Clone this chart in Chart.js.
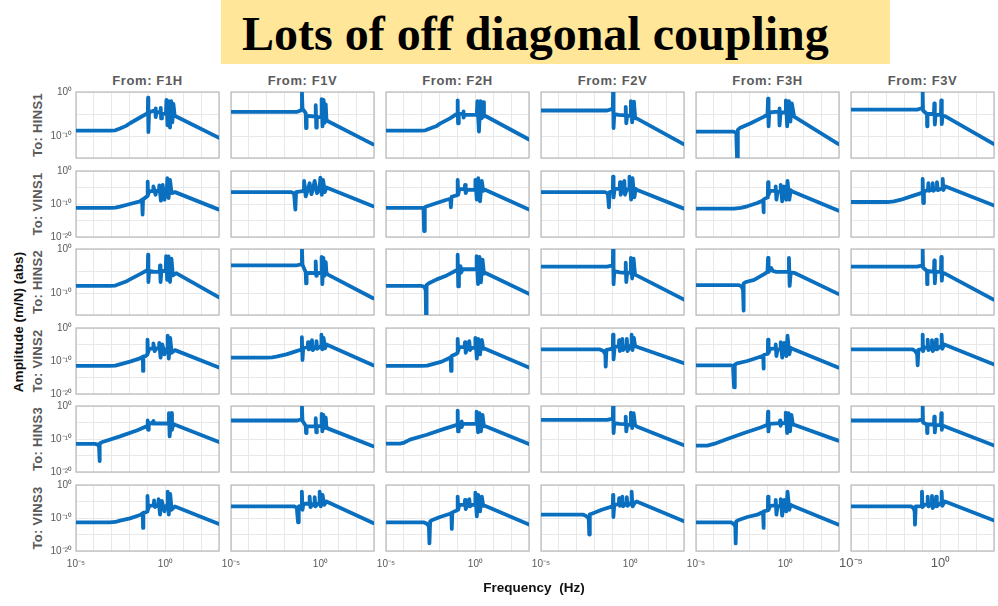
<!DOCTYPE html>
<html>
<head>
<meta charset="utf-8">
<script src="https://cdn.jsdelivr.net/npm/chart.js@4.4.1/dist/chart.umd.min.js"></script>
<style>
  body { margin: 0; background: #fff; width: 998px; height: 606px; position: relative; overflow: hidden;
         font-family: "Liberation Sans", Arial, sans-serif; }
  #banner { position: absolute; left: 221px; top: 0; width: 669px; height: 64px; background: #ffe699; }
  #banner span { position: absolute; left: 21px; top: 6px; line-height: 48px; white-space: nowrap;
                 font: bold 48px "Liberation Serif", "Times New Roman", serif; color: #000; }
  .panel { position: absolute; }
  .colTitle { position: absolute; width: 143px; top: 74px; line-height: 14px; text-align: center;
              font-weight: bold; font-size: 13px; letter-spacing: 0.6px; color: #5a5a5a; }
  .rowTitle { position: absolute; width: 90px; height: 14px; line-height: 14px; text-align: center;
              font-weight: bold; font-size: 13px; letter-spacing: 0.3px; color: #5a5a5a; transform: rotate(-90deg); }
  .axisTitle { position: absolute; font-weight: bold; font-size: 13.5px; color: #111; white-space: pre;
               line-height: 14px; text-align: center; }
</style>
</head>
<body>
<div id="banner"><span>Lots of off diagonal coupling</span></div>
<div id="grid"></div>
<div class="axisTitle" style="left:-61px;top:315px;width:160px;transform:rotate(-90deg);">Amplitude (m/N) (abs)</div>
<div class="axisTitle" style="left:454px;top:581px;width:160px;">Frequency  (Hz)</div>

<script>
// inputs and outputs of the 6x6 transfer matrix
const fromLabels = ['From: F1H', 'From: F1V', 'From: F2H', 'From: F2V', 'From: F3H', 'From: F3V'];
const toLabels = ['To: HINS1', 'To: VINS1', 'To: HINS2', 'To: VINS2', 'To: HINS3', 'To: VINS3'];

// axis limits and ticks, in decades (log10)
const rowFloor = [-15, -20, -15, -20, -20, -20];
const freqDecades = [-5, -4, -3, -2, -1, 0, 1, 2, 3];
const freqLabelled = [-5, 0];
const ampLabelled = [0, -10, -20];

// magnitude curves: [log10 f (Hz), log10 |G| (m/N)]
// row HINS1
const h1_f1h = [[-5,-8.8],[-3.1,-8.8],[-2.8,-8.7],[-2.54,-8.3],[-2.2,-7.7],[-1.98,-7.1],[-1.42,-5.8],[-1.04,-4.9],[-0.98,-4.7],[-0.97,-1.3],[-0.95,-9.1],[-0.91,-4.6],[-0.67,-4.3],[-0.56,-4.3],[-0.55,-3.7],[-0.53,-5.7],[-0.49,-4.6],[-0.28,-4.6],[-0.26,-3.6],[-0.24,-6.0],[-0.19,-5.0],[0.03,-4.9],[0.06,-1.8],[0.12,-7.6],[0.19,-2.1],[0.26,-8.1],[0.33,-2.1],[0.39,-6.9],[0.45,-2.7],[0.52,-5.4],[3,-10.4]];
const h1_f1v = [[-5,-4.5],[-1.3,-4.5],[-1.1,-4.2],[-1.04,-3.8],[-1.03,-0.1],[-1.0,-3.8],[-0.82,-4.8],[-0.8,-8.2],[-0.77,-5.4],[-0.28,-5.6],[-0.26,-3.0],[-0.23,-8.1],[-0.2,-5.8],[0.05,-5.6],[0.07,-1.6],[0.12,-7.8],[0.18,-1.8],[0.24,-7.0],[0.3,-2.8],[0.34,-6.2],[0.4,-6.6],[2.95,-11.9]];
const h1_f2h = [[-5,-8.8],[-3.1,-8.8],[-2.8,-8.7],[-2.54,-8.3],[-2.2,-7.8],[-1.98,-7.2],[-1.42,-6.0],[-1.08,-5.1],[-1.0,-4.9],[-0.99,-1.9],[-0.97,-7.1],[-0.93,-4.9],[-0.69,-5.0],[-0.67,-4.4],[-0.65,-5.8],[-0.6,-5.2],[0.08,-5.2],[0.11,-2.1],[0.2,-9.0],[0.28,-2.1],[0.35,-6.0],[0.43,-2.3],[0.48,-5.6],[0.54,-5.4],[3,-10.8]];
const h1_f2v = [[-5,-4.2],[-1.3,-4.2],[-1.05,-3.9],[-0.98,-3.6],[-0.97,-0.1],[-0.94,-8.2],[-0.9,-5.0],[-0.67,-5.2],[-0.28,-5.3],[-0.26,-3.4],[-0.23,-7.1],[-0.18,-5.4],[0.0,-5.4],[0.03,-2.1],[0.1,-6.9],[0.2,-2.2],[0.27,-6.0],[0.35,-6.0],[3,-11.9]];
const h1_f3h = [[-5,-9.0],[-2.9,-9.0],[-2.75,-9.3],[-2.7,-15.5],[-2.66,-8.6],[-2.55,-8.2],[-1.94,-7.1],[-1.19,-5.6],[-1.0,-5.1],[-0.97,-1.5],[-0.94,-7.8],[-0.9,-4.7],[-0.6,-4.5],[-0.35,-4.5],[-0.34,-3.7],[-0.31,-7.6],[-0.27,-4.7],[0.0,-4.6],[0.03,-1.9],[0.1,-7.8],[0.2,-2.1],[0.28,-6.7],[0.36,-2.6],[0.49,-5.6],[2.95,-11.8]];
const h1_f3v = [[-5,-4.0],[-1.3,-4.0],[-1.05,-3.7],[-1.0,-3.5],[-0.99,0],[-0.97,-4.2],[-0.75,-5.0],[-0.74,-7.8],[-0.72,-5.0],[-0.36,-5.0],[-0.34,-2.6],[-0.31,-7.4],[-0.27,-5.2],[0.03,-5.2],[0.05,-1.9],[0.08,-7.3],[0.12,-5.4],[0.26,-5.5],[2.97,-11.8]];
// row VINS1
const v1_f1h = [[-5,-11.2],[-3.1,-11.2],[-2.8,-11.1],[-2.54,-10.8],[-1.98,-10.0],[-1.42,-9.2],[-1.3,-8.7],[-1.28,-8.6],[-1.27,-13.2],[-1.25,-8.6],[-1.1,-8.0],[-1.0,-7.6],[-0.99,-3.2],[-0.97,-7.2],[-0.9,-6.2],[-0.68,-6.0],[-0.67,-4.7],[-0.55,-7.2],[-0.5,-6.0],[-0.36,-6.0],[-0.34,-4.4],[-0.25,-9.0],[-0.15,-4.2],[-0.05,-8.7],[0.0,-6.2],[0.08,-6.0],[0.11,-2.2],[0.18,-8.2],[0.26,-2.7],[0.35,-6.7],[0.54,-6.4],[3,-11.7]];
const v1_f1v = [[-5,-6.4],[-1.62,-6.4],[-1.47,-6.8],[-1.4,-11.7],[-1.36,-6.4],[-1.1,-6.2],[-0.92,-6.0],[-0.91,-3.0],[-0.82,-7.7],[-0.69,-5.4],[-0.6,-3.7],[-0.5,-7.0],[-0.42,-5.6],[-0.32,-3.0],[-0.19,-6.7],[-0.05,-5.5],[0.0,-2.0],[0.08,-7.2],[0.15,-2.7],[0.25,-6.4],[0.34,-5.0],[2.95,-10.7]];
const v1_f2h = [[-5,-11.2],[-2.95,-11.2],[-2.9,-11.4],[-2.87,-18.2],[-2.83,-11.0],[-2.7,-10.7],[-2.16,-9.7],[-1.6,-8.7],[-1.4,-8.4],[-1.37,-11.0],[-1.33,-7.8],[-1.05,-7.4],[-1.0,-7.2],[-0.99,-2.7],[-0.96,-7.2],[-0.9,-5.4],[-0.6,-5.6],[-0.58,-4.2],[-0.54,-6.7],[-0.48,-5.7],[-0.02,-5.7],[0.0,-2.7],[0.08,-8.7],[0.16,-2.2],[0.26,-9.2],[0.36,-3.0],[0.44,-6.0],[0.54,-5.7],[3,-11.7]];
const v1_f2v = [[-5,-6.4],[-1.42,-6.4],[-1.26,-6.8],[-1.2,-11.0],[-1.16,-6.4],[-1.0,-6.2],[-0.98,-6.0],[-0.97,-1.7],[-0.94,-8.0],[-0.88,-5.4],[-0.6,-5.4],[-0.58,-3.4],[-0.54,-7.2],[-0.46,-5.6],[-0.36,-5.5],[-0.34,-3.0],[-0.3,-7.2],[-0.2,-5.6],[-0.07,-5.6],[-0.05,-1.7],[0.04,-8.7],[0.12,-2.2],[0.22,-8.0],[0.3,-5.4],[0.35,-5.7],[3,-11.4]];
const v1_f3h = [[-5,-11.4],[-2.87,-11.4],[-2.5,-11.2],[-2.13,-10.7],[-1.57,-9.7],[-1.29,-9.0],[-1.24,-8.8],[-1.23,-12.5],[-1.2,-8.6],[-1.0,-8.0],[-0.98,-7.8],[-0.97,-3.4],[-0.94,-7.2],[-0.85,-6.0],[-0.56,-6.0],[-0.54,-4.7],[-0.5,-8.7],[-0.44,-6.3],[-0.28,-6.2],[-0.26,-4.2],[-0.18,-9.2],[-0.07,-4.7],[0.05,-8.7],[0.12,-3.0],[0.22,-8.7],[0.3,-5.8],[0.39,-6.2],[2.95,-12.0]];
const v1_f3v = [[-5,-9.4],[-2.95,-9.4],[-2.6,-9.2],[-2.2,-8.7],[-1.64,-7.7],[-1.08,-6.7],[-1.0,-6.5],[-0.99,-2.4],[-0.96,-9.7],[-0.92,-6.2],[-0.7,-5.8],[-0.67,-3.7],[-0.63,-6.0],[-0.45,-5.5],[-0.43,-3.7],[-0.39,-6.0],[-0.21,-5.2],[-0.19,-3.4],[-0.15,-5.8],[0.1,-5.2],[0.13,-2.4],[0.17,-5.8],[0.26,-4.6],[2.97,-10.4]];
// row HINS2
const h2_f1h = [[-5,-8.4],[-3.1,-8.4],[-2.8,-8.3],[-2.54,-7.9],[-2.2,-7.4],[-1.98,-6.9],[-1.42,-5.7],[-1.04,-4.9],[-0.98,-4.7],[-0.97,-1.3],[-0.95,-7.5],[-0.91,-5.0],[-0.6,-5.2],[-0.32,-5.2],[-0.3,-3.7],[-0.27,-7.5],[-0.22,-5.0],[0.02,-5.0],[0.04,-1.6],[0.1,-7.0],[0.18,-1.7],[0.26,-7.5],[0.34,-2.2],[0.42,-6.0],[0.6,-5.5],[3,-11.0]];
const h2_f1v = [[-5,-3.7],[-1.3,-3.7],[-1.1,-3.5],[-1.04,-3.3],[-1.03,0],[-1.0,-3.6],[-0.82,-5.3],[-0.8,-7.8],[-0.77,-5.4],[-0.28,-5.5],[-0.26,-2.8],[-0.23,-6.1],[-0.2,-5.5],[0.05,-5.4],[0.07,-1.8],[0.11,-8.0],[0.17,-2.0],[0.23,-6.1],[0.3,-3.0],[0.34,-5.5],[0.37,-5.7],[2.95,-11.2]];
const h2_f2h = [[-5,-8.4],[-3.0,-8.4],[-2.85,-8.6],[-2.78,-9.4],[-2.76,-15.5],[-2.73,-8.2],[-2.6,-7.8],[-2.16,-6.9],[-1.6,-6.0],[-1.08,-4.9],[-1.0,-4.7],[-0.99,-1.3],[-0.96,-8.5],[-0.92,-4.5],[-0.85,-4.5],[-0.83,-3.9],[-0.8,-5.4],[-0.7,-4.6],[0.05,-4.6],[0.07,-1.6],[0.15,-8.0],[0.23,-1.8],[0.31,-7.6],[0.4,-2.4],[0.48,-5.6],[0.6,-5.5],[3,-10.2]];
const h2_f2v = [[-5,-4.0],[-1.3,-4.0],[-1.05,-3.8],[-0.98,-3.6],[-0.97,-0.1],[-0.94,-8.0],[-0.9,-5.0],[-0.6,-5.3],[-0.28,-5.4],[-0.26,-3.1],[-0.23,-7.5],[-0.18,-5.4],[0.0,-5.4],[0.03,-2.0],[0.1,-6.7],[0.18,-2.2],[0.26,-5.8],[0.35,-6.0],[3,-11.5]];
const h2_f3h = [[-5,-8.2],[-2.6,-8.2],[-2.45,-8.5],[-2.37,-9.3],[-2.35,-14.0],[-2.32,-7.8],[-2.2,-7.5],[-1.75,-7.0],[-1.19,-5.7],[-1.0,-5.2],[-0.97,-2.0],[-0.94,-5.2],[-0.8,-4.3],[-0.7,-5.0],[-0.5,-5.2],[0.18,-5.2],[0.2,-2.0],[0.24,-8.4],[0.3,-5.3],[0.49,-5.4],[2.95,-10.2]];
const h2_f3v = [[-5,-4.0],[-1.3,-4.0],[-1.05,-3.8],[-1.0,-3.6],[-0.99,0],[-0.97,-4.2],[-0.75,-5.0],[-0.74,-8.0],[-0.72,-5.0],[-0.36,-5.2],[-0.34,-2.6],[-0.31,-7.8],[-0.27,-5.2],[0.03,-5.2],[0.05,-1.8],[0.08,-7.2],[0.12,-5.4],[0.26,-5.6],[2.97,-11.5]];
// row VINS2
const v2_f1h = [[-5,-11.5],[-3.1,-11.5],[-2.8,-11.4],[-2.54,-11.0],[-1.98,-10.2],[-1.42,-9.2],[-1.3,-8.8],[-1.26,-8.7],[-1.25,-13.0],[-1.23,-8.6],[-1.1,-8.5],[-1.01,-8.0],[-1.0,-3.5],[-0.97,-7.5],[-0.9,-6.3],[-0.69,-6.2],[-0.67,-4.7],[-0.6,-7.0],[-0.5,-6.2],[-0.36,-6.2],[-0.34,-4.5],[-0.27,-9.0],[-0.17,-5.0],[-0.05,-8.0],[0.0,-6.5],[0.1,-6.4],[0.13,-2.3],[0.19,-9.3],[0.27,-3.0],[0.35,-7.5],[0.54,-6.7],[3,-12.0]];
const v2_f1v = [[-5,-9.0],[-3.02,-9.0],[-2.7,-8.9],[-2.46,-8.7],[-1.9,-8.0],[-1.34,-7.0],[-1.06,-6.5],[-1.04,-6.4],[-1.03,-2.8],[-1.0,-9.7],[-0.96,-6.0],[-0.71,-5.8],[-0.69,-4.3],[-0.65,-6.5],[-0.49,-6.0],[-0.47,-3.7],[-0.43,-6.7],[-0.24,-5.6],[-0.22,-4.0],[-0.18,-6.3],[0.04,-5.5],[0.06,-2.0],[0.1,-6.5],[0.18,-3.0],[0.26,-6.2],[0.34,-5.0],[2.95,-11.3]];
const v2_f2h = [[-5,-11.5],[-3.0,-11.5],[-2.7,-11.4],[-2.44,-11.0],[-1.88,-10.2],[-1.42,-9.0],[-1.38,-8.8],[-1.36,-13.0],[-1.33,-8.5],[-1.05,-7.8],[-1.0,-7.5],[-0.99,-3.3],[-0.96,-7.0],[-0.9,-5.7],[-0.6,-5.8],[-0.58,-4.3],[-0.54,-7.5],[-0.46,-6.0],[-0.36,-6.0],[-0.34,-4.0],[-0.3,-6.7],[-0.2,-6.0],[-0.02,-6.0],[0.0,-3.0],[0.08,-9.3],[0.16,-3.3],[0.26,-8.0],[0.36,-3.6],[0.44,-6.3],[0.54,-6.3],[3,-12.0]];
const v2_f2v = [[-5,-6.5],[-1.7,-6.5],[-1.5,-7.0],[-1.4,-8.0],[-1.38,-11.7],[-1.34,-6.6],[-1.2,-6.5],[-0.98,-6.2],[-0.97,-2.0],[-0.94,-9.5],[-0.88,-5.7],[-0.65,-5.6],[-0.63,-3.7],[-0.59,-7.0],[-0.47,-5.5],[-0.45,-3.3],[-0.41,-6.7],[-0.22,-5.3],[-0.2,-3.3],[-0.16,-7.0],[0.05,-5.0],[0.07,-2.0],[0.12,-6.7],[0.2,-3.0],[0.26,-5.4],[0.35,-5.7],[3,-10.7]];
const v2_f3h = [[-5,-11.3],[-3.06,-11.3],[-2.93,-11.6],[-2.87,-18.0],[-2.83,-11.1],[-2.7,-10.7],[-2.13,-10.0],[-1.57,-9.0],[-1.29,-8.5],[-1.24,-8.4],[-1.23,-12.3],[-1.2,-8.2],[-1.0,-7.8],[-0.98,-7.6],[-0.97,-3.5],[-0.94,-7.5],[-0.85,-6.3],[-0.56,-6.2],[-0.54,-5.0],[-0.5,-8.5],[-0.44,-6.5],[-0.28,-6.4],[-0.26,-4.3],[-0.18,-9.0],[-0.07,-4.5],[0.05,-8.5],[0.12,-2.3],[0.22,-8.0],[0.3,-6.0],[0.39,-6.3],[2.95,-12.0]];
const v2_f3v = [[-5,-6.5],[-1.55,-6.5],[-1.4,-7.0],[-1.3,-8.0],[-1.27,-11.3],[-1.23,-6.6],[-1.05,-6.4],[-1.0,-6.2],[-0.99,-2.0],[-0.97,-7.0],[-0.9,-6.0],[-0.73,-5.8],[-0.71,-3.5],[-0.67,-6.7],[-0.49,-5.8],[-0.47,-3.7],[-0.43,-7.0],[-0.26,-5.6],[-0.24,-3.5],[-0.2,-6.5],[0.05,-5.4],[0.07,-2.0],[0.11,-6.3],[0.22,-5.0],[2.97,-11.0]];
// row HINS3
const h3_f1h = [[-5,-11.5],[-3.94,-11.5],[-3.78,-11.7],[-3.71,-12.5],[-3.69,-16.7],[-3.66,-11.4],[-3.56,-11.0],[-2.54,-9.2],[-1.6,-7.4],[-1.08,-6.2],[-1.0,-6.0],[-0.99,-4.4],[-0.97,-7.2],[-0.93,-5.6],[-0.86,-5.2],[-0.7,-5.3],[-0.67,-4.5],[-0.62,-5.3],[0.18,-5.3],[0.2,-2.2],[0.24,-9.2],[0.3,-5.5],[0.33,-2.2],[0.37,-7.2],[0.45,-5.4],[0.54,-5.7],[3,-10.9]];
const h3_f1v = [[-5,-4.4],[-1.3,-4.4],[-1.1,-4.1],[-1.04,-4.0],[-1.03,-0.2],[-1.0,-4.5],[-0.82,-6.0],[-0.8,-8.2],[-0.77,-6.2],[-0.28,-6.2],[-0.26,-3.7],[-0.23,-8.0],[-0.2,-6.2],[0.05,-6.0],[0.07,-2.4],[0.11,-7.7],[0.17,-2.7],[0.23,-6.7],[0.3,-3.5],[0.34,-6.5],[0.37,-6.7],[2.95,-12.2]];
const h3_f2h = [[-5,-11.4],[-4.22,-11.4],[-4.03,-11.2],[-3.66,-10.2],[-2.72,-8.7],[-1.79,-7.0],[-1.08,-5.8],[-1.0,-5.6],[-0.99,-1.4],[-0.97,-7.7],[-0.93,-5.4],[-0.8,-5.4],[-0.78,-4.7],[-0.75,-6.4],[-0.7,-5.4],[0.05,-5.4],[0.07,-1.7],[0.15,-8.0],[0.23,-2.2],[0.31,-7.7],[0.4,-2.7],[0.48,-6.2],[0.6,-6.2],[3,-11.5]];
const h3_f2v = [[-5,-4.2],[-1.3,-4.2],[-1.05,-3.9],[-0.98,-3.8],[-0.97,0],[-0.94,-8.2],[-0.9,-5.2],[-0.6,-5.4],[-0.28,-5.5],[-0.26,-3.2],[-0.23,-7.7],[-0.18,-5.7],[0.0,-5.7],[0.03,-2.0],[0.1,-6.7],[0.18,-2.2],[0.26,-5.7],[0.35,-6.2],[3,-11.9]];
const h3_f3h = [[-5,-12.0],[-4.37,-12.0],[-4.0,-11.5],[-3.25,-10.0],[-2.31,-8.2],[-1.38,-6.5],[-1.0,-5.7],[-0.97,-1.7],[-0.95,-7.7],[-0.9,-5.4],[-0.32,-5.2],[-0.3,-4.4],[-0.27,-6.0],[-0.2,-5.2],[0.0,-5.2],[0.02,-2.0],[0.1,-8.2],[0.18,-2.2],[0.26,-7.7],[0.34,-2.7],[0.42,-5.6],[0.49,-5.7],[2.95,-10.5]];
const h3_f3v = [[-5,-4.4],[-1.3,-4.4],[-1.05,-4.1],[-1.0,-4.0],[-0.99,-0.2],[-0.97,-5.0],[-0.75,-5.6],[-0.74,-8.2],[-0.72,-5.6],[-0.36,-5.6],[-0.34,-3.2],[-0.31,-8.0],[-0.27,-5.8],[0.03,-5.8],[0.05,-2.2],[0.08,-7.2],[0.12,-6.0],[0.26,-6.2],[2.97,-11.9]];
// row VINS3
const v3_f1h = [[-5,-11.3],[-3.1,-11.3],[-2.8,-11.2],[-2.54,-10.8],[-1.98,-10.1],[-1.42,-9.1],[-1.3,-8.7],[-1.26,-8.6],[-1.25,-13.0],[-1.23,-8.4],[-1.1,-8.3],[-1.01,-8.0],[-1.0,-3.3],[-0.97,-7.5],[-0.9,-6.3],[-0.65,-6.2],[-0.63,-4.7],[-0.58,-6.7],[-0.46,-6.2],[-0.4,-6.2],[-0.38,-4.3],[-0.3,-9.0],[-0.2,-4.8],[-0.05,-8.0],[0.0,-6.4],[0.1,-6.3],[0.13,-2.0],[0.19,-9.0],[0.27,-2.7],[0.35,-7.5],[0.54,-6.5],[3,-11.8]];
const v3_f1v = [[-5,-6.5],[-1.44,-6.5],[-1.32,-7.0],[-1.25,-11.3],[-1.21,-6.5],[-1.05,-6.3],[-1.04,-6.2],[-1.03,-2.0],[-1.0,-7.5],[-0.95,-5.7],[-0.62,-5.6],[-0.6,-3.5],[-0.56,-6.7],[-0.34,-5.5],[-0.32,-3.7],[-0.28,-6.5],[-0.06,-5.3],[-0.04,-2.0],[0.02,-6.5],[0.12,-3.0],[0.22,-6.0],[0.34,-5.0],[2.95,-11.5]];
const v3_f2h = [[-5,-11.3],[-2.91,-11.3],[-2.72,-11.7],[-2.6,-12.5],[-2.57,-17.7],[-2.53,-11.0],[-2.44,-10.7],[-1.98,-9.7],[-1.42,-8.7],[-1.34,-8.5],[-1.32,-13.3],[-1.29,-8.3],[-1.05,-7.7],[-1.0,-7.5],[-0.99,-3.5],[-0.96,-7.5],[-0.9,-6.0],[-0.6,-6.0],[-0.58,-4.5],[-0.54,-7.3],[-0.46,-6.2],[-0.36,-6.0],[-0.34,-4.3],[-0.3,-6.5],[-0.2,-6.0],[-0.02,-6.0],[0.0,-2.3],[0.08,-9.5],[0.16,-3.0],[0.26,-8.0],[0.36,-3.5],[0.44,-6.3],[0.54,-6.3],[3,-12.0]];
const v3_f2v = [[-5,-9.0],[-2.63,-9.0],[-2.44,-9.5],[-2.33,-10.3],[-2.3,-15.0],[-2.27,-8.9],[-2.16,-8.7],[-1.6,-7.5],[-1.14,-6.7],[-0.98,-6.4],[-0.97,-3.0],[-0.95,-9.7],[-0.9,-6.0],[-0.65,-5.8],[-0.63,-4.0],[-0.59,-6.3],[-0.47,-5.6],[-0.45,-3.5],[-0.41,-6.5],[-0.22,-5.5],[-0.2,-3.7],[-0.16,-6.3],[0.05,-5.3],[0.07,-2.0],[0.12,-6.5],[0.26,-5.3],[0.35,-5.0],[3,-11.0]];
const v3_f3h = [[-5,-11.3],[-3.06,-11.3],[-2.91,-11.7],[-2.8,-12.5],[-2.78,-17.7],[-2.75,-11.0],[-2.65,-10.7],[-2.13,-9.7],[-1.57,-9.0],[-1.38,-8.5],[-1.25,-8.2],[-1.23,-13.0],[-1.2,-8.0],[-1.0,-7.7],[-0.98,-7.5],[-0.97,-3.5],[-0.94,-7.5],[-0.85,-6.3],[-0.56,-6.2],[-0.54,-4.5],[-0.5,-9.0],[-0.44,-6.4],[-0.28,-6.3],[-0.26,-4.3],[-0.18,-9.3],[-0.07,-4.5],[0.05,-8.0],[0.12,-2.0],[0.22,-7.5],[0.3,-6.0],[0.39,-6.3],[2.95,-12.0]];
const v3_f3v = [[-5,-6.5],[-1.64,-6.5],[-1.5,-7.0],[-1.44,-8.0],[-1.42,-12.0],[-1.38,-6.5],[-1.1,-6.4],[-1.04,-6.3],[-1.03,-2.0],[-1.0,-6.7],[-0.9,-6.0],[-0.73,-5.8],[-0.71,-3.5],[-0.67,-6.5],[-0.49,-5.8],[-0.47,-3.3],[-0.43,-7.0],[-0.26,-5.5],[-0.24,-3.5],[-0.2,-6.5],[0.05,-5.3],[0.07,-2.0],[0.11,-6.3],[0.26,-5.0],[2.97,-10.7]];

const curves = [
  [h1_f1h, h1_f1v, h1_f2h, h1_f2v, h1_f3h, h1_f3v],
  [v1_f1h, v1_f1v, v1_f2h, v1_f2v, v1_f3h, v1_f3v],
  [h2_f1h, h2_f1v, h2_f2h, h2_f2v, h2_f3h, h2_f3v],
  [v2_f1h, v2_f1v, v2_f2h, v2_f2v, v2_f3h, v2_f3v],
  [h3_f1h, h3_f1v, h3_f2h, h3_f2v, h3_f3h, h3_f3v],
  [v3_f1h, v3_f1v, v3_f2h, v3_f2v, v3_f3h, v3_f3v]
];

// panel geometry (px)
const colLeft = [76, 231, 386, 541, 696, 851];
const rowTop = [92, 171, 249, 328, 406, 485];
const panelW = 143, panelH = 66;

const SUP = { '-': '\u207b', '0': '\u2070', '1': '\u00b9', '2': '\u00b2', '3': '\u00b3', '5': '\u2075' };
const pow10 = e => '10' + String(e).split('').map(ch => SUP[ch]).join('');

// grey box round each axes
const axesBox = {
  id: 'axesBox',
  beforeDatasetsDraw(chart) {
    const { ctx, chartArea: a } = chart;
    ctx.save();
    ctx.strokeStyle = '#b9b9b9';
    ctx.lineWidth = 1.2;
    ctx.strokeRect(a.left, a.top, a.right - a.left, a.bottom - a.top);
    ctx.restore();
  }
};

const grid = document.getElementById('grid');

fromLabels.forEach((t, c) => {
  const d = document.createElement('div');
  d.className = 'colTitle';
  d.style.left = colLeft[c] + 'px';
  d.textContent = t;
  grid.appendChild(d);
});
toLabels.forEach((t, r) => {
  const d = document.createElement('div');
  d.className = 'rowTitle';
  d.style.left = (38 - 45) + 'px';
  d.style.top = (rowTop[r] + panelH / 2 - 7) + 'px';
  d.textContent = t;
  grid.appendChild(d);
});

function makePanel(r, c) {
  const padL = c === 0 ? 44 : 16;
  const padB = r === 5 ? 28 : 6;
  const padT = 6, padR = 4;
  const bigX = (r === 5 && c === 5);

  const wrap = document.createElement('div');
  wrap.className = 'panel';
  wrap.style.left = (colLeft[c] - padL) + 'px';
  wrap.style.top = (rowTop[r] - padT) + 'px';
  const canvas = document.createElement('canvas');
  canvas.width = panelW + padL + padR;
  canvas.height = panelH + padT + padB;
  wrap.appendChild(canvas);
  grid.appendChild(wrap);

  const yFloor = rowFloor[r];
  const yLines = [];
  for (let v = 0; v >= yFloor; v -= 5) yLines.push(v);

  new Chart(canvas, {
    type: 'scatter',
    data: {
      datasets: [{
        data: curves[r][c].map(p => ({ x: p[0], y: p[1] })),
        showLine: true,
        borderColor: '#0a6fbf',
        borderWidth: 3.8,
        borderJoinStyle: 'round',
        borderCapStyle: 'round',
        pointRadius: 0,
        tension: 0
      }]
    },
    options: {
      responsive: false,
      animation: false,
      events: [],
      layout: { padding: { top: padT, right: padR, left: 0, bottom: 0 } },
      plugins: { legend: { display: false }, tooltip: { enabled: false } },
      scales: {
        x: {
          type: 'linear', min: -5, max: 3,
          afterBuildTicks: s => { s.ticks = freqDecades.map(v => ({ value: v })); },
          afterFit: s => { s.height = padB; s.paddingLeft = 0; s.paddingRight = 0; },
          grid: { color: '#e8e8e8', lineWidth: 1, drawTicks: false },
          border: { display: false },
          ticks: {
            display: r === 5, autoSkip: false, maxRotation: 0, padding: bigX ? 5 : 7,
            color: '#5a5a5a', font: { family: 'Liberation Sans', size: bigX ? 13 : 10 },
            callback: v => freqLabelled.includes(v) ? pow10(v) : ''
          }
        },
        y: {
          type: 'linear', min: yFloor, max: 0,
          afterBuildTicks: s => { s.ticks = yLines.map(v => ({ value: v })); },
          afterFit: s => { s.width = padL; s.paddingTop = 0; s.paddingBottom = 0; },
          grid: { color: '#e8e8e8', lineWidth: 1, drawTicks: false },
          border: { display: false },
          ticks: {
            display: c === 0, autoSkip: false, padding: 4,
            color: '#5a5a5a', font: { family: 'Liberation Sans', size: 10 },
            callback: v => ampLabelled.includes(v) ? pow10(v) : ''
          }
        }
      }
    },
    plugins: [axesBox]
  });
}

for (let r = 0; r < 6; r++) {
  for (let c = 0; c < 6; c++) makePanel(r, c);
}
</script>
</body>
</html>
